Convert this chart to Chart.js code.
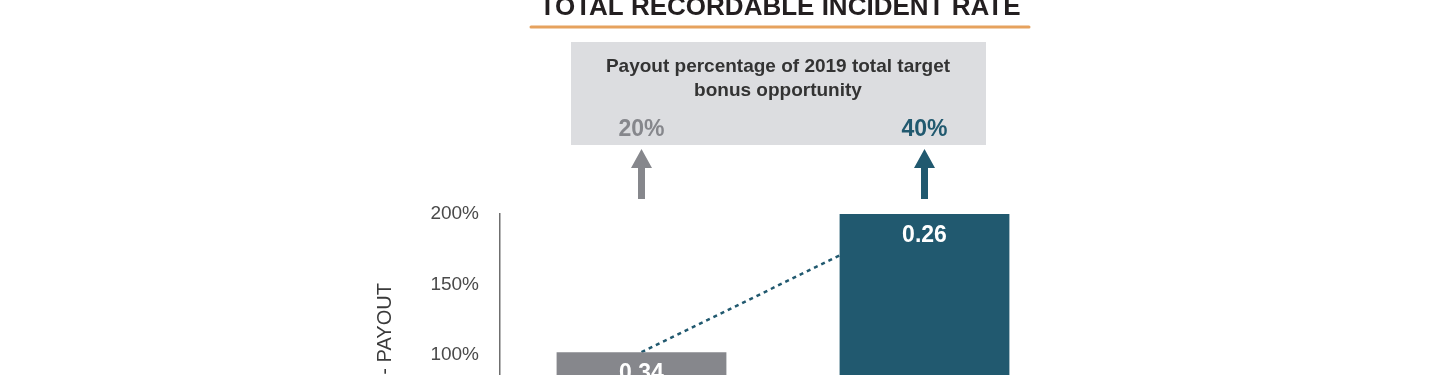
<!DOCTYPE html>
<html>
<head>
<meta charset="utf-8">
<script src="https://cdn.jsdelivr.net/npm/chart.js@4/dist/chart.umd.min.js"></script>
<style>
  html, body { margin: 0; padding: 0; background: #ffffff; overflow: hidden; }
  #viewport { width: 1440px; height: 375px; overflow: hidden; position: relative; }
  #wrap { width: 1440px; height: 560px; position: absolute; left: 0; top: 0; }
</style>
</head>
<body>
<div id="viewport"><div id="wrap"><canvas id="c"></canvas></div></div>
<script>
// ---- data ----
const categories = ["Threshold", "Maximum"];
const payoutPct = [102, 200];
const trirValues = ["0.34", "0.26"];
const bonusShare = ["20%", "40%"];
const yTickValues = [0, 50, 100, 150, 200];
const chartTitle = "TOTAL RECORDABLE INCIDENT RATE";
const boxLines = ["Payout percentage of 2019 total target", "bonus opportunity"];
const yAxisTitle = "TRIR - PAYOUT";

const GRAY = "#86878c";
const TEAL = "#21596f";
const FONT = "'Liberation Sans', Arial, sans-serif";

const decorPlugin = {
  id: "decor",
  beforeDraw(chart) {
    const ctx = chart.ctx;
    const xs = chart.scales.x;
    ctx.save();
    // main title
    ctx.fillStyle = "#231f20";
    ctx.font = "bold 26px " + FONT;
    ctx.textAlign = "center";
    ctx.textBaseline = "alphabetic";
    ctx.fillText(chartTitle, 780, 15);
    // orange underline
    ctx.strokeStyle = "#e6a25e";
    ctx.lineWidth = 3;
    ctx.lineCap = "round";
    ctx.beginPath();
    ctx.moveTo(531, 27);
    ctx.lineTo(1029, 27);
    ctx.stroke();
    // gray box
    ctx.fillStyle = "#dcdde0";
    ctx.fillRect(571, 42, 415, 103);
    ctx.fillStyle = "#333333";
    ctx.font = "bold 19px " + FONT;
    ctx.fillText(boxLines[0], 778, 72);
    ctx.fillText(boxLines[1], 778, 96);
    // percentages + arrows
    const colors = [GRAY, TEAL];
    categories.forEach((c, i) => {
      const cx = xs.getPixelForValue(i);
      ctx.fillStyle = colors[i];
      ctx.font = "bold 23px " + FONT;
      ctx.fillText(bonusShare[i], cx, 136);
      // arrow
      ctx.beginPath();
      ctx.moveTo(cx, 149);
      ctx.lineTo(cx + 10.5, 168);
      ctx.lineTo(cx + 3.5, 168);
      ctx.lineTo(cx + 3.5, 199);
      ctx.lineTo(cx - 3.5, 199);
      ctx.lineTo(cx - 3.5, 168);
      ctx.lineTo(cx - 10.5, 168);
      ctx.closePath();
      ctx.fill();
    });
    ctx.restore();
  },
  afterDatasetsDraw(chart) {
    const ctx = chart.ctx;
    const meta = chart.getDatasetMeta(1);
    ctx.save();
    ctx.fillStyle = "#ffffff";
    ctx.font = "bold 23px " + FONT;
    ctx.textAlign = "center";
    ctx.textBaseline = "alphabetic";
    meta.data.forEach((bar, i) => {
      ctx.fillText(trirValues[i], bar.x, bar.y + 28);
    });
    ctx.restore();
  }
};

new Chart(document.getElementById("c"), {
  type: "bar",
  data: {
    labels: categories,
    datasets: [
      {
        type: "line",
        data: payoutPct,
        borderColor: TEAL,
        borderWidth: 2.5,
        borderDash: [4, 4],
        pointRadius: 0,
        fill: false,
        order: 2
      },
      {
        type: "bar",
        data: payoutPct,
        backgroundColor: [GRAY, TEAL],
        borderWidth: 0,
        categoryPercentage: 1,
        barPercentage: 0.6,
        order: 1
      }
    ]
  },
  options: {
    responsive: true,
    maintainAspectRatio: false,
    animation: false,
    devicePixelRatio: 1,
    layout: { padding: { left: 373, right: 374, top: 214, bottom: 64 } },
    plugins: { legend: { display: false }, tooltip: { enabled: false }, title: { display: false } },
    scales: {
      x: { display: false, offset: true },
      y: {
        min: 0,
        max: 200,
        afterFit(scale) { scale.width = 127; },
        afterBuildTicks(scale) { scale.ticks = yTickValues.map(v => ({ value: v })); },
        grid: { display: false, drawTicks: false },
        border: { display: true, color: "#6f6f6f", width: 1.5 },
        ticks: {
          padding: 21,
          color: "#4a4a4a",
          font: { family: FONT, size: 19 },
          callback: v => v + "%"
        },
        title: {
          display: true,
          text: yAxisTitle,
          color: "#3a3a3a",
          font: { family: FONT, size: 20 },
          padding: { top: 0, bottom: 0 }
        }
      }
    }
  },
  plugins: [decorPlugin]
});
</script>
</body>
</html>
